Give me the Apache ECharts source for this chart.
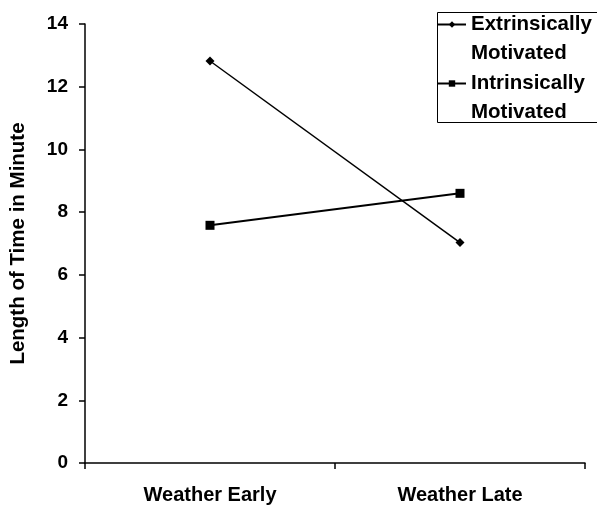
<!DOCTYPE html>
<html>
<head>
<meta charset="utf-8">
<script src="https://cdn.jsdelivr.net/npm/echarts@6/dist/echarts.min.js"></script>
<style>
html,body{margin:0;padding:0;background:#fff;}
#chart{width:597px;height:508px;}
</style>
</head>
<body>
<div id="chart"></div>
<script>
var categories = ['Weather Early', 'Weather Late'];
var extrinsicValues = [12.82, 7.03];
var intrinsicValues = [7.58, 8.6];
var seriesNames = ['Extrinsically\nMotivated', 'Intrinsically\nMotivated'];
var yAxisTitle = 'Length of Time in Minute';

var chart = echarts.init(document.getElementById('chart'));

var fontBase = {fontFamily: 'Liberation Sans, Arial, sans-serif', fontWeight: 'bold', color: '#000'};

var option = {
    backgroundColor: '#fff',
    animation: false,
    grid: {left: 85, right: 12, top: 24, bottom: 45, outerBoundsMode: 'none'},
    // box around the legend
    graphic: [{
        type: 'rect',
        left: 435,
        top: 10,
        shape: {width: 175, height: 110},
        style: {fill: 'none', stroke: '#000', lineWidth: 1}
    }],
    legend: {
        left: 435,
        top: -19,
        orient: 'vertical',
        itemWidth: 28,
        itemHeight: 8,
        itemGap: -28,
        padding: [0, 0, 0, 2],
        formatter: function (name) { return '\n' + name; },
        textStyle: Object.assign({fontSize: 20.5, lineHeight: 29}, fontBase),
        data: seriesNames
    },
    xAxis: {
        type: 'category',
        data: categories,
        boundaryGap: true,
        axisLine: {lineStyle: {color: '#000', width: 1.5}},
        axisTick: {show: true, length: 6, lineStyle: {color: '#000', width: 1.5}},
        axisLabel: Object.assign({fontSize: 20, margin: 22}, fontBase),
        splitLine: {show: false}
    },
    yAxis: {
        type: 'value',
        min: 0,
        max: 14,
        interval: 2,
        name: yAxisTitle,
        nameLocation: 'middle',
        nameRotate: 90,
        nameGap: 56,
        nameTextStyle: Object.assign({fontSize: 20.5}, fontBase),
        axisLine: {show: true, lineStyle: {color: '#000', width: 1.5}},
        axisTick: {show: true, length: 6, lineStyle: {color: '#000', width: 1.5}},
        axisLabel: Object.assign({fontSize: 19, margin: 17}, fontBase),
        splitLine: {show: false}
    },
    series: [
        {
            name: seriesNames[0],
            type: 'line',
            data: extrinsicValues,
            symbol: 'diamond',
            symbolSize: 9,
            itemStyle: {color: '#000'},
            lineStyle: {color: '#000', width: 1.5}
        },
        {
            name: seriesNames[1],
            type: 'line',
            data: intrinsicValues,
            symbol: 'rect',
            symbolSize: 9,
            itemStyle: {color: '#000'},
            lineStyle: {color: '#000', width: 2}
        }
    ]
};

chart.setOption(option);
</script>
</body>
</html>
